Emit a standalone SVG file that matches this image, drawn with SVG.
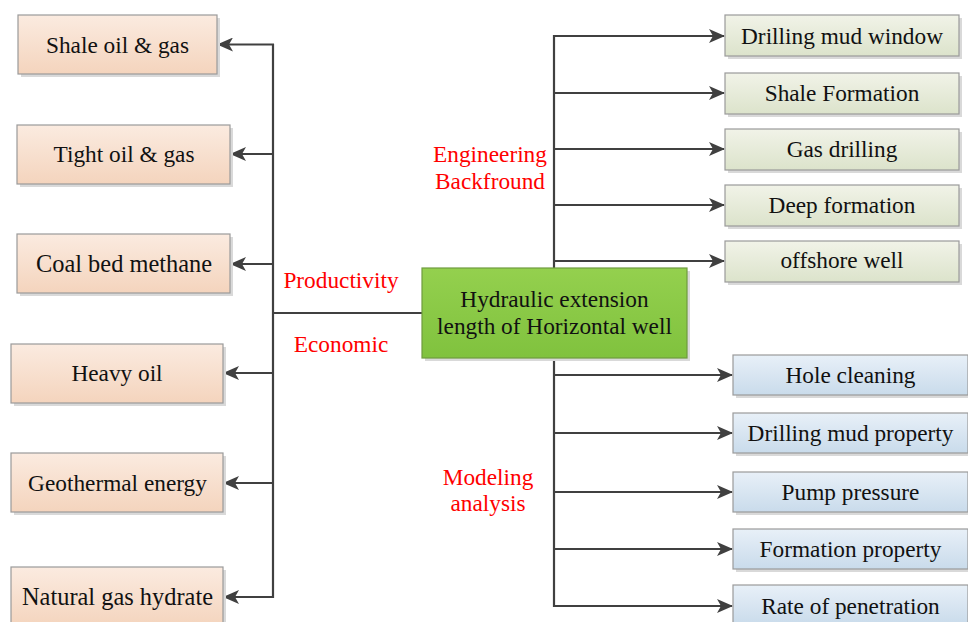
<svg xmlns="http://www.w3.org/2000/svg" width="968" height="622" viewBox="0 0 968 622" font-family="Liberation Serif" font-size="23.3">
<defs>
<linearGradient id="gPeach" x1="0" y1="0" x2="0" y2="1"><stop offset="0" stop-color="#fbebe0"/><stop offset="1" stop-color="#f4d4bd"/></linearGradient>
<linearGradient id="gOlive" x1="0" y1="0" x2="0" y2="1"><stop offset="0" stop-color="#f1f3e8"/><stop offset="1" stop-color="#dce3cb"/></linearGradient>
<linearGradient id="gBlue" x1="0" y1="0" x2="0" y2="1"><stop offset="0" stop-color="#e8f0f8"/><stop offset="1" stop-color="#c9dbeb"/></linearGradient>
<linearGradient id="gGreen" x1="0" y1="0" x2="0" y2="1"><stop offset="0" stop-color="#94d04e"/><stop offset="1" stop-color="#80c23e"/></linearGradient>
<marker id="arr" viewBox="0 0 16 14" refX="15" refY="7" markerWidth="16" markerHeight="14" markerUnits="userSpaceOnUse" orient="auto">
<path d="M0,0 L16,7 L0,14 L4,7 Z" fill="#404040"/>
</marker>
</defs>
<style>
.t{fill:#111;text-anchor:middle}
.big{font-size:24.4px}
.r{fill:#ff0000;text-anchor:middle}
.sh{fill:#d9d9d9}
.bx{stroke:#9a9a9a;stroke-width:1.2}
.p{fill:url(#gPeach)}
.o{fill:url(#gOlive)}
.b{fill:url(#gBlue)}
.ln{fill:none;stroke:#404040;stroke-width:2.2}
.ar{fill:none;stroke:#404040;stroke-width:2.2;marker-end:url(#arr)}
</style>
<rect width="968" height="622" fill="#ffffff"/>

<g id="connectors">
<line class="ln" x1="273" y1="44" x2="273" y2="598"/>
<line class="ln" x1="273" y1="313" x2="422" y2="313"/>
<line class="ar" x1="274" y1="44.5" x2="218" y2="44.5"/>
<line class="ar" x1="274" y1="154" x2="231" y2="154"/>
<line class="ar" x1="274" y1="264" x2="231" y2="264"/>
<line class="ar" x1="274" y1="373" x2="224" y2="373"/>
<line class="ar" x1="274" y1="483" x2="224" y2="483"/>
<line class="ar" x1="274" y1="597" x2="224" y2="597"/>
<line class="ln" x1="554" y1="35" x2="554" y2="268"/>
<line class="ar" x1="553" y1="36" x2="724" y2="36"/>
<line class="ar" x1="553" y1="93" x2="724" y2="93"/>
<line class="ar" x1="553" y1="149" x2="724" y2="149"/>
<line class="ar" x1="553" y1="205" x2="724" y2="205"/>
<line class="ar" x1="553" y1="261" x2="724" y2="261"/>
<line class="ln" x1="554" y1="358" x2="554" y2="607"/>
<line class="ar" x1="553" y1="375" x2="732" y2="375"/>
<line class="ar" x1="553" y1="433" x2="732" y2="433"/>
<line class="ar" x1="553" y1="492" x2="732" y2="492"/>
<line class="ar" x1="553" y1="549" x2="732" y2="549"/>
<line class="ar" x1="553" y1="606" x2="732" y2="606"/>
</g>

<g id="labels">
<text class="r" x="490" y="162">Engineering</text>
<text class="r" x="490" y="189">Backfround</text>
<text class="r" x="341" y="288">Productivity</text>
<text class="r" x="341" y="352">Economic</text>
<text class="r" x="488" y="485">Modeling</text>
<text class="r" x="488" y="511">analysis</text>
</g>

<g id="n-shale"><rect class="sh" x="21" y="18" width="199" height="59"/><rect class="bx p" x="18" y="15" width="199" height="59"/><text class="t" x="117.5" y="52.5">Shale oil &amp; gas</text></g>
<g id="n-tight"><rect class="sh" x="20" y="128" width="213" height="59"/><rect class="bx p" x="17" y="125" width="213" height="59"/><text class="t" x="124" y="162">Tight oil &amp; gas</text></g>
<g id="n-coal"><rect class="sh" x="20" y="237" width="213" height="59"/><rect class="bx p" x="17" y="234" width="213" height="59"/><text class="t big" x="124" y="271.5">Coal bed methane</text></g>
<g id="n-heavy"><rect class="sh" x="14" y="347" width="212" height="59"/><rect class="bx p" x="11" y="344" width="212" height="59"/><text class="t" x="117" y="381">Heavy oil</text></g>
<g id="n-geo"><rect class="sh" x="14" y="456" width="212" height="59"/><rect class="bx p" x="11" y="453" width="212" height="59"/><text class="t" x="117.5" y="491">Geothermal energy</text></g>
<g id="n-hydrate"><rect class="sh" x="14" y="570" width="212" height="60"/><rect class="bx p" x="11" y="567" width="212" height="60"/><text class="t big" x="117.5" y="605">Natural gas hydrate</text></g>

<g id="n-center"><rect class="sh" x="425" y="271" width="265" height="90"/><rect x="422" y="268" width="265" height="90" fill="url(#gGreen)" stroke="#6f9c3f" stroke-width="1.2"/><text class="t" x="554.5" y="307">Hydraulic extension</text><text class="t" x="554.5" y="334">length of Horizontal well</text></g>

<g id="n-mudwindow"><rect class="sh" x="728" y="18" width="234" height="41"/><rect class="bx o" x="725" y="15" width="234" height="41"/><text class="t" x="842" y="44">Drilling mud window</text></g>
<g id="n-shaleform"><rect class="sh" x="728" y="76" width="234" height="41"/><rect class="bx o" x="725" y="73" width="234" height="41"/><text class="t" x="842" y="101">Shale Formation</text></g>
<g id="n-gasdrill"><rect class="sh" x="728" y="132" width="234" height="41"/><rect class="bx o" x="725" y="129" width="234" height="41"/><text class="t" x="842" y="157">Gas drilling</text></g>
<g id="n-deep"><rect class="sh" x="728" y="188" width="234" height="41"/><rect class="bx o" x="725" y="185" width="234" height="41"/><text class="t" x="842" y="213">Deep formation</text></g>
<g id="n-offshore"><rect class="sh" x="728" y="244" width="234" height="41"/><rect class="bx o" x="725" y="241" width="234" height="41"/><text class="t" x="842" y="268">offshore well</text></g>

<g id="n-hole"><rect class="sh" x="736" y="358" width="235" height="40"/><rect class="bx b" x="733" y="355" width="235" height="40"/><text class="t" x="850.5" y="383">Hole cleaning</text></g>
<g id="n-mudprop"><rect class="sh" x="736" y="416" width="235" height="40"/><rect class="bx b" x="733" y="413" width="235" height="40"/><text class="t" x="850.5" y="441">Drilling mud property</text></g>
<g id="n-pump"><rect class="sh" x="736" y="475" width="235" height="40"/><rect class="bx b" x="733" y="472" width="235" height="40"/><text class="t" x="850.5" y="500">Pump pressure</text></g>
<g id="n-formprop"><rect class="sh" x="736" y="532" width="235" height="40"/><rect class="bx b" x="733" y="529" width="235" height="40"/><text class="t" x="850.5" y="557">Formation property</text></g>
<g id="n-rop"><rect class="sh" x="736" y="588" width="235" height="40"/><rect class="bx b" x="733" y="585" width="235" height="40"/><text class="t" x="850.5" y="614">Rate of penetration</text></g>
</svg>
